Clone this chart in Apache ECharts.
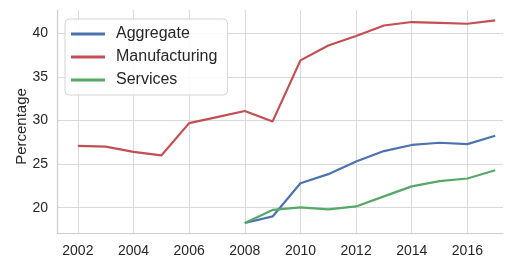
<!DOCTYPE html>
<html>
<head>
<meta charset="utf-8">
<script src="https://cdn.jsdelivr.net/npm/echarts@6/dist/echarts.min.js"></script>
<style>
  html, body { margin: 0; padding: 0; background: #fff; }
  #chart { width: 505px; height: 258px; }
</style>
</head>
<body>
<div id="chart"></div>
<script>
const years = [2002, 2003, 2004, 2005, 2006, 2007, 2008, 2009, 2010, 2011, 2012, 2013, 2014, 2015, 2016, 2017];
const manufacturing = [27.1, 27.0, 26.4, 26.0, 29.7, 30.4, 31.1, 29.9, 36.9, 38.6, 39.7, 40.9, 41.3, 41.2, 41.1, 41.5];
const aggregate = [null, null, null, null, null, null, 18.25, 19.0, 22.8, 23.85, 25.3, 26.5, 27.2, 27.45, 27.3, 28.25];
const services = [null, null, null, null, null, null, 18.25, 19.75, 20.05, 19.8, 20.15, 21.3, 22.45, 23.05, 23.35, 24.3];
const xTicks = [2002, 2004, 2006, 2008, 2010, 2012, 2014, 2016];
const yTicks = [20, 25, 30, 35, 40];

const pairs = (vals) => years.map((y, i) => [y, vals[i]]);

const chart = echarts.init(document.getElementById('chart'));
const font = 'Liberation Sans, Arial, sans-serif';

const lineSeries = (name, color, vals) => ({
  name: name,
  type: 'line',
  data: pairs(vals),
  showSymbol: false,
  symbol: 'none',
  connectNulls: false,
  lineStyle: { color: color, width: 2.2 },
  itemStyle: { color: color },
  z: 2
});

chart.setOption({
  animation: false,
  textStyle: { fontFamily: font },
  grid: { left: 57, right: 2, top: 10, bottom: 20 },
  legend: {
    orient: 'vertical',
    left: 65,
    top: 19,
    padding: [6, 10, 6, 6],
    itemGap: 5,
    itemWidth: 34,
    itemHeight: 3,
    icon: 'rect',
    backgroundColor: 'rgba(255,255,255,0.85)',
    borderColor: '#d4d4d4',
    borderWidth: 1,
    borderRadius: 4,
    textStyle: { fontSize: 16, color: '#262626', fontFamily: font, lineHeight: 18, padding: [0, 0, 0, 6] },
    data: ['Aggregate', 'Manufacturing', 'Services'],
    z: 10
  },
  xAxis: {
    type: 'value',
    min: 2001.25,
    max: 2017.28,
    axisLine: { show: true, lineStyle: { color: '#cccccc', width: 1.2 } },
    axisTick: { show: false, customValues: xTicks },
    axisLabel: {
      customValues: xTicks, fontSize: 14, color: '#262626', margin: 11, fontFamily: font,
      formatter: (v) => String(v)
    },
    splitLine: { show: true, lineStyle: { color: '#d9d9d9', width: 1 } }
  },
  yAxis: {
    type: 'value',
    min: 17.1,
    max: 42.68,
    name: 'Percentage',
    nameLocation: 'middle',
    nameGap: 28,
    nameMoveOverlap: false,
    nameTextStyle: { fontSize: 15, color: '#262626', fontFamily: font, padding: [0, 10, 0, 0] },
    axisLine: { show: true, lineStyle: { color: '#cccccc', width: 1.2 } },
    axisTick: { show: false, customValues: yTicks },
    axisLabel: { customValues: yTicks, fontSize: 14, color: '#262626', margin: 9, fontFamily: font },
    splitLine: { show: true, lineStyle: { color: '#d9d9d9', width: 1 } }
  },
  series: [
    lineSeries('Aggregate', '#4C72B0', aggregate),
    lineSeries('Manufacturing', '#C44E52', manufacturing),
    lineSeries('Services', '#55A868', services)
  ]
});
</script>
</body>
</html>
